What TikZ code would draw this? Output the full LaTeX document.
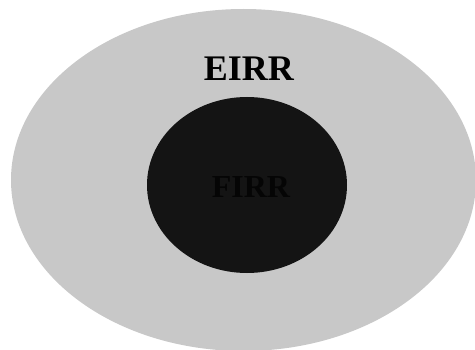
\documentclass[tikz,border=0pt]{standalone}
\usepackage{fontspec}
\setmainfont{Liberation Serif}[BoldFont={Liberation Serif Bold}]
\definecolor{outerg}{HTML}{C8C8C8}
\definecolor{innerg}{HTML}{141414}
\definecolor{innert}{HTML}{050505}
\begin{document}
\begin{tikzpicture}[x=1pt,y=1pt,
  lbl/.style={inner sep=0pt}]
\useasboundingbox (0,0) rectangle (475,349);
\fill[white] (0,0) rectangle (475,349);
\begin{scope}
\clip (0,0) rectangle (475,349);
\fill[outerg] (243.5,169) ellipse [x radius=232.5, y radius=171];
\end{scope}
\fill[innerg] (247,164) ellipse [x radius=100, y radius=88];
\node[lbl, text=black] (eirr) at (249,280) {\fontsize{36}{40}\selectfont\textbf{EIRR}};
\node[lbl, text=innert] (firr) at (251,162) {\fontsize{32}{36}\selectfont\textbf{FIRR}};
\end{tikzpicture}
\end{document}
